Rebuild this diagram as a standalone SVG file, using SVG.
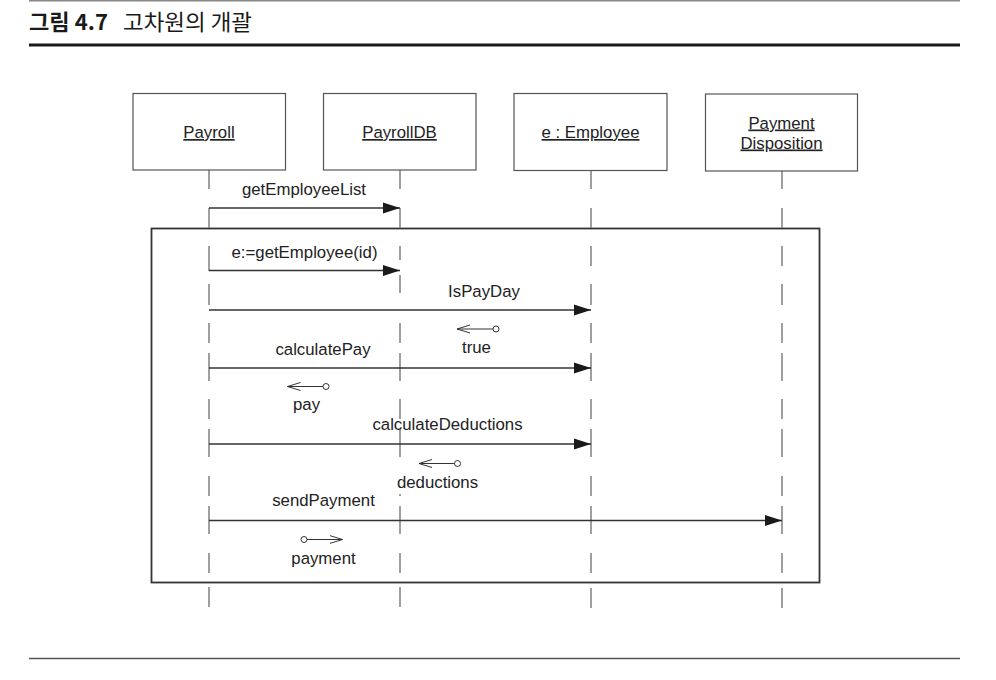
<svg xmlns="http://www.w3.org/2000/svg" width="996" height="680" viewBox="0 0 996 680">
<style>
.t{font-family:"Liberation Sans",Arial,sans-serif;font-size:16.8px;fill:#222;text-anchor:middle}
.u{text-decoration:underline}
.box{fill:#fff;stroke:#555;stroke-width:1.2}
.life{fill:none;stroke:#777;stroke-width:1.4}
.msg{fill:none;stroke:#333;stroke-width:1.3}
.ret{fill:none;stroke:#333;stroke-width:1}
.kr{font-family:"Noto Sans CJK KR",sans-serif;font-size:21.5px;fill:#1a1a1a}
</style>
<defs>
<marker id="filled" markerWidth="18" markerHeight="12" refX="17" refY="6" orient="auto" markerUnits="userSpaceOnUse"><path d="M0,0.5 L17,6 L0,11.5 z" fill="#1a1a1a"/></marker>
<marker id="open" markerWidth="14" markerHeight="10" refX="13" refY="5" orient="auto" markerUnits="userSpaceOnUse"><path d="M0,1 L13,5 L0,9" fill="none" stroke="#333" stroke-width="1"/></marker>
<marker id="dot" markerWidth="8" markerHeight="8" refX="4" refY="4" markerUnits="userSpaceOnUse"><circle cx="4" cy="4" r="3" fill="#fff" stroke="#333" stroke-width="1"/></marker>
</defs>
<rect width="996" height="680" fill="#fff"/>
<g id="header">
<line x1="29" y1="0.8" x2="960" y2="0.8" stroke="#888" stroke-width="1.5"/>
<text class="kr" x="29" y="30" font-weight="bold" textLength="79" lengthAdjust="spacingAndGlyphs">그림 4.7</text>
<text class="kr" x="123" y="30" font-weight="normal" textLength="129" lengthAdjust="spacingAndGlyphs">고차원의 개괄</text>
<line x1="29" y1="45" x2="960" y2="45" stroke="#1a1a1a" stroke-width="3"/>
<line x1="29" y1="658.5" x2="960" y2="658.5" stroke="#555" stroke-width="1.5"/>
</g>
<g id="frame">
<rect x="151.5" y="228.5" width="668" height="354" fill="none" stroke="#333" stroke-width="1.8"/>
</g>
<g id="lifelines">
<path class="life" d="M209,170V189M209,208V228M209,246V271M209,284V305M209,323V343M209,353V381M209,399V419M209,429V457M209,476V496M209,506V534M209,553V573M209,587V607"/>
<path class="life" d="M400,170V189M400,208V228M400,246V260M400,275V293M400,323V343M400,353V381M400,399V419M400,429V457M400,494V496M400,506V534M400,553V573M400,587V607"/>
<path class="life" d="M591,171V189M591,208V228M591,246V266M591,284V305M591,323V343M591,353V381M591,399V419M591,429V457M591,476V496M591,506V534M591,553V573M591,588V608"/>
<path class="life" d="M782,171V189M782,208V228M782,246V266M782,284V305M782,323V343M782,353V381M782,399V419M782,429V457M782,476V496M782,506V534M782,553V573M782,588V608"/>
</g>
<g id="Payroll">
<rect class="box" x="133" y="93.5" width="152.5" height="76.5"/>
<text class="t u" x="209" y="138">Payroll</text>
</g>
<g id="PayrollDB">
<rect class="box" x="323.5" y="93.5" width="152.5" height="76.5"/>
<text class="t u" x="399.5" y="138">PayrollDB</text>
</g>
<g id="Employee">
<rect class="box" x="514" y="93.5" width="153" height="77"/>
<text class="t u" x="590.5" y="138">e : Employee</text>
</g>
<g id="PaymentDisposition">
<rect class="box" x="705.5" y="94" width="152" height="77"/>
<text class="t u" x="781.5" y="128.5">Payment</text>
<text class="t u" x="781.5" y="148.5">Disposition</text>
</g>
<g id="connectors">
<line class="msg" x1="209" y1="208" x2="400" y2="208" marker-end="url(#filled)"/>
<text class="t" x="304" y="195">getEmployeeList</text>
<line class="msg" x1="209" y1="270.5" x2="400" y2="270.5" marker-end="url(#filled)"/>
<text class="t" x="304.5" y="258">e:=getEmployee(id)</text>
<line class="msg" x1="209" y1="310" x2="591" y2="310" marker-end="url(#filled)"/>
<text class="t" x="484" y="297">IsPayDay</text>
<line class="ret" x1="496" y1="329" x2="457" y2="329" marker-start="url(#dot)" marker-end="url(#open)"/>
<text class="t" x="476.5" y="353">true</text>
<line class="msg" x1="209" y1="368" x2="591" y2="368" marker-end="url(#filled)"/>
<text class="t" x="323" y="355">calculatePay</text>
<line class="ret" x1="326" y1="386.5" x2="287.5" y2="386.5" marker-start="url(#dot)" marker-end="url(#open)"/>
<text class="t" x="306.5" y="410">pay</text>
<line class="msg" x1="209" y1="444" x2="591" y2="444" marker-end="url(#filled)"/>
<text class="t" x="447.5" y="430">calculateDeductions</text>
<line class="ret" x1="457.5" y1="463.5" x2="419" y2="463.5" marker-start="url(#dot)" marker-end="url(#open)"/>
<text class="t" x="437.5" y="487.5">deductions</text>
<line class="msg" x1="209" y1="520.5" x2="782" y2="520.5" marker-end="url(#filled)"/>
<text class="t" x="323.5" y="506">sendPayment</text>
<line class="ret" x1="304" y1="539.5" x2="342.5" y2="539.5" marker-start="url(#dot)" marker-end="url(#open)"/>
<text class="t" x="323.5" y="563.5">payment</text>
</g>
</svg>
